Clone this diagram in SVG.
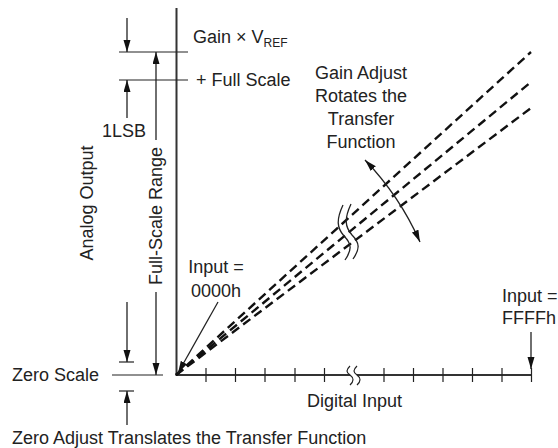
<svg xmlns="http://www.w3.org/2000/svg" width="558" height="448" viewBox="0 0 558 448">
<style>
text{font-family:"Liberation Sans",Arial,Helvetica,sans-serif;font-size:18px;fill:#222}
.thin{stroke:#222;stroke-width:1.2;fill:none}
.ax{stroke:#333;stroke-width:2;fill:none}
.dash{stroke:#111;stroke-width:2.4;fill:none;stroke-dasharray:9 5}
.arr{stroke:#222;stroke-width:1.3;fill:none;marker-end:url(#ah)}
.mid{text-anchor:middle}
</style>
<defs>
<marker id="ah" markerUnits="userSpaceOnUse" markerWidth="13" markerHeight="8" refX="12" refY="3.5" orient="auto-start-reverse">
<path d="M0,0 L12,3.5 L0,7 z" fill="#111"/>
</marker>
</defs>
<rect width="558" height="448" fill="#fff"/>
<g id="axes">
<line class="ax" x1="176.5" y1="8" x2="176.5" y2="376"/>
<path class="ax" d="M176,375 H350 M357,375 H532"/>
<path class="thin" d="M206,368V382 M235.5,368V382 M265,368V382 M295,368V382 M324.5,368V382 M384,368V382 M413.5,368V382 M443,368V382 M472.5,368V382 M502,368V382 M531.5,368V382"/>
<path class="thin" d="M350,366 C346,370 346,372 350,375 C354,378 354,381 350,385 M357,366 C353,370 353,372 357,375 C361,378 361,381 357,385"/>
</g>
<g id="levels">
<line class="thin" x1="119" y1="52" x2="188" y2="52"/>
<line class="thin" x1="119" y1="80" x2="188" y2="80"/>
<line class="thin" x1="112" y1="375" x2="163" y2="375"/>
<line class="thin" x1="119" y1="362" x2="134" y2="362"/>
<line class="thin" x1="119" y1="391" x2="134" y2="391"/>
</g>
<g id="transfer">
<line class="dash" x1="176" y1="375" x2="531" y2="52"/>
<line class="dash" x1="176" y1="375" x2="531" y2="82"/>
<line class="dash" x1="176" y1="375" x2="531" y2="108"/>
<path d="M343,205 C336,220 337,228 344,236 C352,244 352,250 345,260 M351,204 C344,219 345,227 352,235 C360,243 360,249 353,259" fill="none" stroke="#222" stroke-width="1.3"/>
</g>
<g id="connectors">
<line class="arr" x1="127" y1="18" x2="127" y2="52"/>
<line class="arr" x1="127" y1="118" x2="127" y2="80"/>
<line class="arr" x1="156" y1="140" x2="156" y2="52"/>
<line class="arr" x1="156" y1="292" x2="156" y2="375"/>
<line class="arr" x1="127" y1="302" x2="127" y2="362"/>
<line class="arr" x1="127" y1="425" x2="127" y2="391"/>
<line class="arr" x1="218" y1="302" x2="178" y2="373"/>
<line class="arr" x1="531" y1="332" x2="531" y2="369"/>
<path d="M365,160 A283,283 0 0 1 420,242" fill="none" stroke="#222" stroke-width="1.3" marker-start="url(#ah)" marker-end="url(#ah)"/>
</g>
<g id="labels">
<text x="193" y="43">Gain × V<tspan font-size="12" dy="4">REF</tspan></text>
<text x="196" y="86">+ Full Scale</text>
<text x="102" y="137">1LSB</text>
<text class="mid" transform="translate(93,203) rotate(-90)">Analog Output</text>
<text class="mid" transform="translate(162,216) rotate(-90)">Full-Scale Range</text>
<text x="12" y="381">Zero Scale</text>
<text x="12" y="444">Zero Adjust Translates the Transfer Function</text>
<text x="307" y="407">Digital Input</text>
<text class="mid" x="216" y="273">Input =</text>
<text class="mid" x="216" y="297">0000h</text>
<text x="502" y="302">Input =</text>
<text x="502" y="324">FFFFh</text>
<text class="mid" x="361" y="79">Gain Adjust</text>
<text class="mid" x="361" y="102">Rotates the</text>
<text class="mid" x="361" y="125">Transfer</text>
<text class="mid" x="361" y="148">Function</text>
</g>
</svg>
